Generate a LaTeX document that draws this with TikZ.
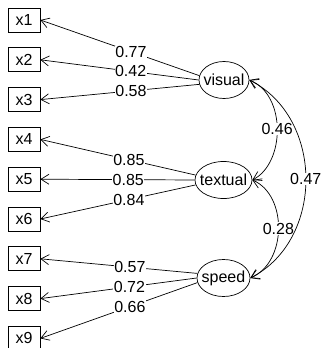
\documentclass[tikz,border=0pt]{standalone}
\usepackage{fontspec}
\setmainfont{Liberation Sans}
\usetikzlibrary{arrows.meta,shapes.geometric}
\tikzset{
  obs/.style={draw,rectangle,line width=0.7pt,minimum width=32pt,minimum height=24pt,inner sep=0pt},
  lat/.style={draw,ellipse,line width=0.7pt,minimum height=37pt,inner sep=0pt},
  load/.style={line width=0.7pt,-{Straight Barb[length=8pt,width=10pt]}},
  cov/.style={line width=0.7pt,{Straight Barb[length=8pt,width=10pt]}-{Straight Barb[length=8pt,width=10pt]}},
  lab/.style={fill=white,inner sep=0.5pt}
}
\begin{document}
\begin{tikzpicture}[x=1pt,y=-1pt,font=\fontsize{16}{19}\selectfont]
\useasboundingbox (0,0) rectangle (325,348);
\clip (0,0) rectangle (325,348);
% observed
\foreach \i/\yy in {1/20,2/59.8,3/99.6,4/139.4,5/179.2,6/219,7/258.8,8/298.6,9/338.4}
  \node[obs] (x\i) at (24,\yy) {x\i};
% latent
\node[lat,minimum width=50pt] (visual) at (224,80) {\makebox[0pt]{visual}};
\node[lat,minimum width=57pt] (textual) at (223.5,180) {\makebox[0pt]{textual}};
\node[lat,minimum width=53pt] (speed) at (223.5,278) {\makebox[0pt]{speed}};
% loadings
\draw[load] (visual.170) -- node[lab,pos=0.43] {0.77} (x1.east);
\draw[load] (visual.180) -- node[lab,pos=0.43] {0.42} (x2.east);
\draw[load] (visual.190) -- node[lab,pos=0.43] {0.58} (x3.east);
\draw[load] (textual.170) -- node[lab,pos=0.43] {0.85} (x4.east);
\draw[load] (textual.180) -- node[lab,pos=0.43] {0.85} (x5.east);
\draw[load] (textual.190) -- node[lab,pos=0.43] {0.84} (x6.east);
\draw[load] (speed.170) -- node[lab,pos=0.43] {0.57} (x7.east);
\draw[load] (speed.180) -- node[lab,pos=0.43] {0.72} (x8.east);
\draw[load] (speed.190) -- node[lab,pos=0.43] {0.66} (x9.east);
% covariances
\draw[cov] (visual.east) .. controls +(37,15) and +(33,-17) .. node[lab] {0.46} (textual.east);
\draw[cov] (textual.east) .. controls +(35,15) and +(37,-16) .. node[lab] {0.28} (speed.east);
\draw[cov] (visual.east) .. controls +(75,38) and +(74,-38) .. node[lab] {0.47} (speed.east);
\end{tikzpicture}
\end{document}
